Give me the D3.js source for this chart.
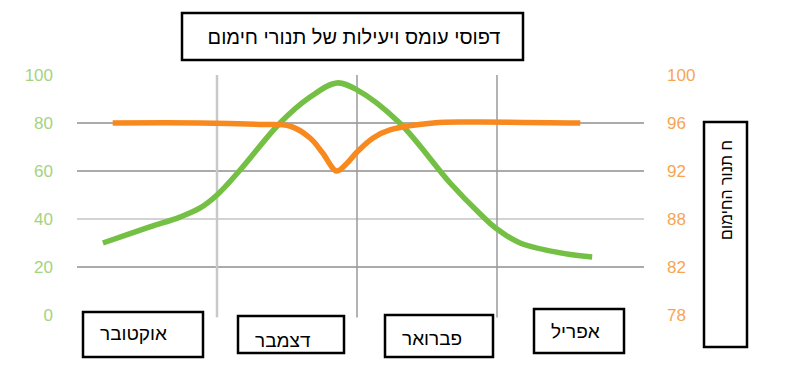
<!DOCTYPE html>
<html>
<head>
<meta charset="utf-8">
<script src="https://cdn.jsdelivr.net/npm/d3@7"></script>
<style>
  body { margin: 0; background: #fff; }
  svg { display: block; font-family: "Liberation Sans", Arial, sans-serif; }
</style>
</head>
<body>
<svg id="svg" width="785" height="375"></svg>
<script>
// chart data
var title = "דפוסי עומס ויעילות של תנורי חימום";
var rightTitle = "ח תנור החימום";
var months = ["אוקטובר", "דצמבר", "פברואר", "אפריל"];
var monthPos = [0, 2, 4, 6];          // month index (October = 0)
var gridMonths = [1, 3, 5];           // November, January, March
var leftTicks = [0, 20, 40, 60, 80, 100];
var rightTicks = [78, 82, 88, 92, 96, 100];
var hGrid = [20, 40, 60, 80];

// load (left axis) - month index, value
var loadMonth = [-0.63, 0.04, 0.47, 0.76, 1.0, 1.33, 1.9, 2.33, 2.71, 3.0, 3.61, 4.33, 4.76, 5.0, 5.33, 6.0, 6.36];
var loadValue = [30, 36.7, 40.8, 44.6, 50, 60.4, 80, 90.8, 96.7, 93.8, 80, 55, 42.1, 35.8, 30, 25.4, 24.2];

// efficiency (right axis)
var effMonth = [-0.49, 0.76, 1.61, 2.04, 2.33, 2.51, 2.71, 2.86, 3.0, 3.23, 3.47, 4.09, 4.61, 6.19];
var effValue = [96, 96, 95.88, 95.75, 94.75, 93.5, 92, 92.67, 93.58, 94.75, 95.42, 96, 96.08, 96];

// layout (not data)
var boxLayout = [
  { dx: -64, w: 120, top: 312, h: 45, base: 340 },
  { dx: -49, w: 106, top: 316, h: 37, base: 347 },
  { dx: -42, w: 108, top: 315, h: 42, base: 345 },
  { dx: -33, w: 90, top: 309, h: 44, base: 338 }
];

var svg = d3.select("#svg");

var x = d3.scaleLinear().domain([-1, 7.1]).range([77, 644]);
var y = d3.scaleLinear().domain([0, 100]).range([315, 75]);
var yRight = d3.scaleLinear().domain(rightTicks).range(leftTicks.map(function (d) { return y(d); }));

// gridlines
svg.append("g")
  .selectAll("line")
  .data(hGrid)
  .join("line")
  .attr("x1", x(-1))
  .attr("x2", x(7.1))
  .attr("y1", d => y(d))
  .attr("y2", d => y(d))
  .attr("stroke", d => d == 40 ? "#c4c4c4" : "#8f8f8f")
  .attr("stroke-width", 1.5);

svg.append("g")
  .selectAll("line")
  .data(gridMonths)
  .join("line")
  .attr("x1", d => x(d))
  .attr("x2", d => x(d))
  .attr("y1", y(100))
  .attr("y2", y(-1))
  .attr("stroke", (d, i) => i == 0 ? "#c8c8c8" : "#9a9a9a")
  .attr("stroke-width", (d, i) => i == 0 ? 2.5 : 1.5);

// axes
var leftAxis = svg.append("g")
  .attr("transform", "translate(53,0)")
  .call(d3.axisLeft(y).tickValues(leftTicks).tickSize(0).tickPadding(0));
leftAxis.select(".domain").remove();
leftAxis.selectAll("text")
  .attr("fill", "#a3d47f")
  .style("font-size", "17px")
  .style("font-family", "Liberation Sans, Arial, sans-serif");

var rightAxis = svg.append("g")
  .attr("transform", "translate(667,0)")
  .call(d3.axisRight(yRight).tickValues(rightTicks).tickSize(0).tickPadding(0));
rightAxis.select(".domain").remove();
rightAxis.selectAll("text")
  .attr("fill", "#f7a552")
  .style("font-size", "17px")
  .style("font-family", "Liberation Sans, Arial, sans-serif");

// lines
var loadLine = d3.line()
  .x(d => x(d[0]))
  .y(d => y(d[1]))
  .curve(d3.curveCatmullRom.alpha(0.5));

var effLine = d3.line()
  .x(d => x(d[0]))
  .y(d => yRight(d[1]))
  .curve(d3.curveCatmullRom.alpha(0.5));

svg.append("path")
  .attr("d", loadLine(d3.zip(loadMonth, loadValue)))
  .attr("fill", "none")
  .attr("stroke", "#74c044")
  .attr("stroke-width", 5.5);

svg.append("path")
  .attr("d", effLine(d3.zip(effMonth, effValue)))
  .attr("fill", "none")
  .attr("stroke", "#f7891f")
  .attr("stroke-width", 5.5);

// title box
svg.append("rect")
  .attr("x", 182).attr("y", 13)
  .attr("width", 341).attr("height", 47)
  .attr("fill", "#fff")
  .attr("stroke", "#000")
  .attr("stroke-width", 2.5);
svg.append("text")
  .attr("x", 354).attr("y", 44)
  .attr("text-anchor", "middle")
  .style("font-size", "20px")
  .text(title);

// month boxes
var boxes = svg.append("g")
  .selectAll("g")
  .data(months)
  .join("g");

boxes.append("rect")
  .attr("x", (d, i) => x(monthPos[i]) + boxLayout[i].dx)
  .attr("y", (d, i) => boxLayout[i].top)
  .attr("width", (d, i) => boxLayout[i].w)
  .attr("height", (d, i) => boxLayout[i].h)
  .attr("fill", "#fff")
  .attr("stroke", "#000")
  .attr("stroke-width", 2.5);

boxes.append("text")
  .attr("x", (d, i) => x(monthPos[i]) + boxLayout[i].dx + 17)
  .attr("y", (d, i) => boxLayout[i].base)
  .style("font-size", "19px")
  .text(d => d);

// right axis title box
svg.append("rect")
  .attr("x", 704).attr("y", 122)
  .attr("width", 43).attr("height", 225)
  .attr("fill", "#fff")
  .attr("stroke", "#000")
  .attr("stroke-width", 2.5);
svg.append("text")
  .attr("transform", "translate(732,190) rotate(-90)")
  .attr("text-anchor", "middle")
  .style("font-size", "16px")
  .text(rightTitle);
</script>
</body>
</html>
